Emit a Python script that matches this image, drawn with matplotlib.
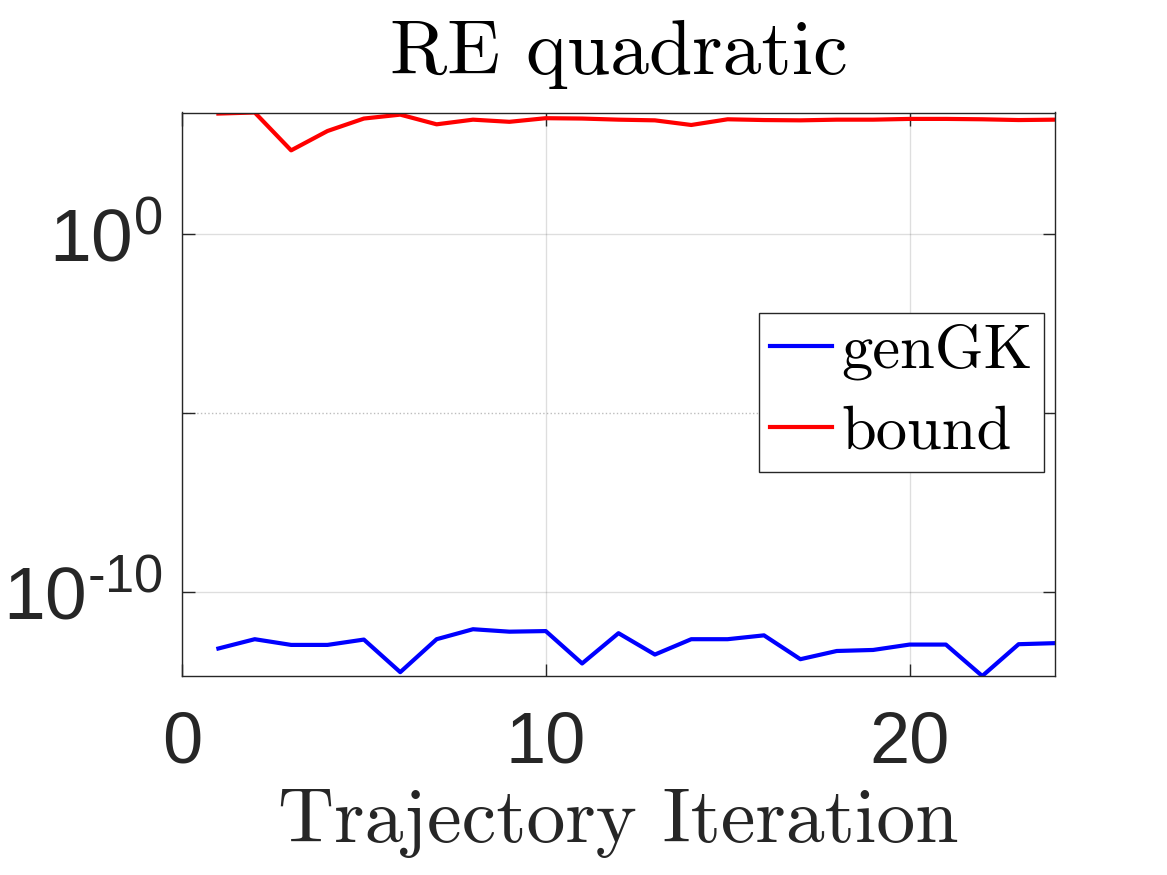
import matplotlib
matplotlib.use('Agg')
import matplotlib.pyplot as plt
from matplotlib.ticker import FixedLocator, FixedFormatter, NullFormatter

# ---- data ----
iterations = list(range(1, 25))
gengk = [2.57e-12, 4.68e-12, 3.24e-12, 3.24e-12, 4.57e-12, 5.6e-13, 4.68e-12, 8.9e-12,
         7.6e-12, 7.9e-12, 9.8e-13, 6.9e-12, 1.74e-12, 4.68e-12, 4.68e-12, 6.0e-12,
         1.29e-12, 2.19e-12, 2.34e-12, 3.31e-12, 3.31e-12, 4.37e-13, 3.39e-12, 3.63e-12]
bound = [2.40e3, 2.57e3, 2.24e2, 7.8e2, 1.74e3, 2.24e3, 1.20e3, 1.62e3,
         1.41e3, 1.78e3, 1.74e3, 1.62e3, 1.55e3, 1.15e3, 1.66e3, 1.58e3,
         1.55e3, 1.62e3, 1.62e3, 1.70e3, 1.70e3, 1.66e3, 1.58e3, 1.62e3]
series_labels = ['genGK', 'bound']
xticks = [0, 10, 20]
ytick_vals = [1e-10, 1e0]
ytick_labels = [r'$10^{\text{-}10}$', r'$10^{0}$']
yminor_vals = [1e-5]
title = 'RE quadratic'
xlabel = 'Trajectory Iteration'

plt.rcParams['font.family'] = ['Liberation Sans', 'DejaVu Sans']
plt.rcParams['mathtext.fontset'] = 'custom'
plt.rcParams['mathtext.rm'] = 'Liberation Sans'
plt.rcParams['mathtext.it'] = 'Liberation Sans:italic'
plt.rcParams['mathtext.bf'] = 'Liberation Sans:bold'
plt.rcParams['mathtext.sf'] = 'Liberation Sans'

dark = '#262626'
fig = plt.figure(figsize=(11.67, 8.75), dpi=100)
ax = fig.add_axes([182/1167, 1-676/875, (1055-182)/1167, (676-112.5)/875])

ax.plot(iterations, gengk, color='#0000ff', lw=3.0, label=series_labels[0])
ax.plot(iterations, bound, color='#ff0000', lw=3.0, label=series_labels[1])
ax.set_yscale('log')
ax.set_xlim(0, 24)
ax.set_ylim(min(gengk), max(bound))

ax.set_xticks(xticks)
ax.yaxis.set_major_locator(FixedLocator(ytick_vals))
ax.yaxis.set_major_formatter(FixedFormatter(ytick_labels))
ax.yaxis.set_minor_locator(FixedLocator(yminor_vals))
ax.yaxis.set_minor_formatter(NullFormatter())
ax.xaxis.set_minor_locator(FixedLocator([]))

ax.tick_params(which='both', direction='in', length=9, width=1, top=True, right=True,
               color=dark, labelcolor=dark)
ax.tick_params(axis='x', pad=25, labelsize=52)
ax.tick_params(axis='y', pad=14, labelsize=54)
for s in ax.spines.values():
    s.set_color(dark)
    s.set_linewidth(1)

ax.grid(True, which='major', color=dark, alpha=0.15, lw=1)
ax.grid(True, which='minor', axis='y', color=dark, alpha=0.3, lw=1, ls=':')

ax.set_title(title, fontfamily='cmr10', fontsize=56, color='black', pad=28)
ax.set_xlabel(xlabel, fontfamily='cmr10', fontsize=56, color=dark, labelpad=8)

leg = ax.legend(loc='upper left', bbox_to_anchor=(759/1167, 1-313/875),
                bbox_transform=fig.transFigure, borderaxespad=0,
                prop={'family': 'cmr10', 'size': 45}, frameon=True, fancybox=False,
                edgecolor=dark, framealpha=1, handlelength=1.0, handletextpad=0.15,
                borderpad=0.17, labelspacing=0.4)
leg.get_frame().set_linewidth(1)

fig.savefig('out.png', dpi=100, facecolor='white')
